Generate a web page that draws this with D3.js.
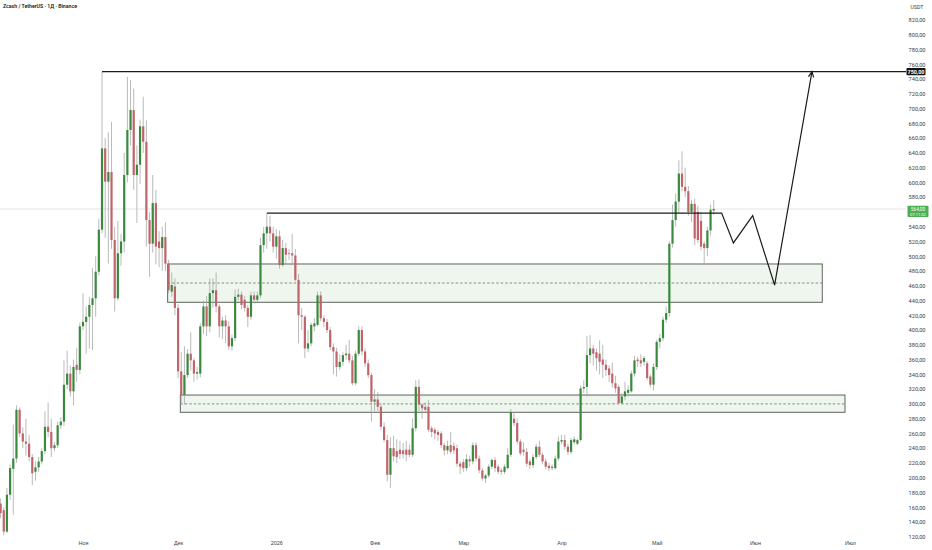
<!DOCTYPE html>
<html>
<head>
<meta charset="utf-8">
<script src="https://cdn.jsdelivr.net/npm/d3@7"></script>
<style>
body { margin: 0; background: #fff; }
svg { display: block; font-family: Roboto, "Noto Sans", sans-serif; }
</style>
</head>
<body>
<script>
// daily candles, first one on this day
const startDay = '2025-10-06'

const opens = [165,156,127,177,212,226,292,260,249,246,228,208,214,222,236,269,262,240,244,271,
  276,326,341,317,353,346,405,411,418,434,443,479,536,646,601,614,522,443,504,520,
  610,671,698,610,624,676,655,549,517,572,520,511,526,490,452,459,430,344,312,339,
  368,359,341,341,405,432,405,450,454,432,405,413,405,378,389,445,448,441,430,418,
  447,441,447,515,531,540,531,513,527,488,511,504,504,501,468,420,418,375,382,405,
  407,447,416,411,400,377,371,350,357,366,368,359,328,368,400,371,355,339,303,306,
  296,269,251,204,240,236,238,237,238,238,231,267,323,299,296,296,267,265,262,260,
  244,237,244,243,240,219,221,213,225,222,244,226,210,199,203,215,224,215,210,208,
  213,231,280,274,249,238,235,222,217,228,242,231,222,216,215,213,226,249,251,242,
  235,248,246,251,321,323,366,375,370,368,360,353,348,341,328,323,301,310,315,317,
  341,360,359,357,355,337,326,350,384,389,414,423,517,549,574,612,594,588,560,571,
  560,548,517,511,535,562]
const highs = [172,160,186,218,272,298,295,268,280,258,232,222,228,240,290,302,280,248,276,282,
  359,372,352,360,376,410,450,432,445,484,500,551,750,660,668,682,540,548,530,640,
  743,739,727,650,685,716,684,560,610,590,534,540,546,495,478,470,435,370,378,374,
  397,362,350,409,440,446,470,470,478,435,418,420,412,394,455,456,452,446,434,452,
  452,452,525,540,558,555,540,537,535,522,518,510,530,510,476,430,420,400,410,416,
  452,452,420,415,404,382,376,367,370,380,387,365,372,405,405,375,360,342,320,316,
  300,275,258,255,257,252,250,247,250,245,280,332,333,300,302,305,270,268,265,263,
  247,250,262,248,245,222,225,232,230,248,248,230,213,205,218,226,228,218,213,218,
  240,293,289,280,252,248,240,225,232,246,250,234,226,220,218,230,256,258,258,246,
  254,256,253,325,332,392,393,380,375,386,380,360,352,356,338,326,315,330,325,345,
  365,364,367,365,358,340,355,387,395,418,432,520,570,585,630,642,620,595,576,578,
  568,560,520,540,570,576]
const lows = [145,122,125,170,150,220,255,240,230,222,190,196,208,218,232,255,228,236,240,266,
  270,320,310,298,330,340,400,368,375,373,418,474,531,525,490,510,425,440,487,505,
  600,650,590,545,598,640,513,472,505,489,485,480,480,450,445,420,335,300,299,335,
  345,330,333,336,395,392,397,430,424,390,388,382,373,372,385,440,428,425,404,414,
  436,437,443,505,510,520,505,497,483,486,490,495,490,466,382,400,362,370,378,398,
  405,412,404,396,373,340,337,346,352,360,355,325,325,365,366,350,335,276,290,290,
  265,248,195,186,222,220,225,226,222,228,228,263,290,280,288,262,255,252,250,240,
  230,232,232,232,215,205,208,209,215,218,222,206,196,193,200,212,208,205,204,205,
  211,228,270,245,230,230,215,212,213,225,228,218,211,209,210,211,223,245,238,231,
  232,245,244,249,315,310,355,352,345,340,335,338,330,322,315,300,300,305,310,315,
  337,350,350,352,332,322,318,346,375,385,410,418,512,540,558,588,580,555,546,515,
  518,508,488,500,528,556]
const closes = [152,127,177,213,226,292,260,249,246,228,206,214,222,236,269,262,240,244,271,276,
  326,341,317,350,346,405,411,418,434,443,479,536,646,601,614,522,443,504,520,610,
  671,698,610,624,676,655,549,517,572,513,511,526,490,454,461,430,344,312,339,368,
  359,341,343,405,432,405,450,454,432,405,413,405,378,389,445,448,434,430,418,447,
  441,447,515,531,540,531,513,527,488,511,502,503,501,468,420,418,375,382,407,409,
  447,416,411,400,377,371,350,357,366,368,359,328,368,400,371,355,339,303,306,296,
  269,251,204,240,229,228,232,232,231,231,267,323,299,294,292,265,262,260,258,244,
  237,243,235,237,219,215,213,225,222,244,226,210,199,203,215,224,213,208,208,215,
  231,289,274,249,233,235,219,217,228,242,231,222,215,213,213,226,249,251,242,235,
  251,252,251,321,323,366,375,368,362,357,353,346,339,328,321,301,310,317,319,341,
  359,358,355,362,335,326,350,384,389,414,423,517,549,574,612,594,588,560,571,524,
  522,513,511,535,563,564]

const monthDays = ['2025-11-01','2025-12-01','2026-01-01','2026-02-01','2026-03-01','2026-04-01','2026-05-01','2026-06-01','2026-07-01']
const monthLabels = ['Ноя','Дек','2026','Фев','Мар','Апр','Май','Июн','Июл']
const priceTicks = [120,140,160,180,200,220,240,260,280,300,320,340,360,380,400,420,440,460,480,500,
  520,540,560,580,600,620,640,660,680,700,720,740,760,780,800,820]

// drawn zones: top, middle, bottom price and start / end time
const upperZone = [489.5, 463.7, 437.6]
const upperZoneDays = ['2025-11-27T17:00Z','2026-06-22T06:00Z']
const lowerZone = [312, 300, 288.6]
const lowerZoneDays = ['2025-12-01T17:00Z','2026-06-29T10:00Z']

const athPrice = 750
const athDay = '2025-11-07'

// resistance line and projected path
const pathDays = ['2025-12-29','2026-05-21T12:00Z','2026-05-25T05:00Z','2026-05-31T07:00Z','2026-06-07T05:00Z','2026-06-19']
const pathPrices = [558.5,558.5,518,555,461,750]

const lastPrice = 564
const countdown = '07:11:02'

var width = 932, height = 550
var plotRight = 906

var day0 = new Date(startDay + 'T00:00Z')
var candles = closes.map((c, i) => ({
  date: new Date(day0.getTime() + i * 864e5),
  o: opens[i], h: highs[i], l: lows[i], c: c
}))

var x = d3.scaleUtc()
  .domain([new Date('2025-11-01T00:00Z'), new Date('2026-07-01T00:00Z')])
  .range([83, 850])

var y = d3.scaleLinear()
  .domain([140, 820])
  .range([522, 20])

var fmt = (v) => d3.format('.2f')(v).replace('.', ',')

var svg = d3.select('body').append('svg').attr('width', width).attr('height', height)
svg.append('rect').attr('width', width).attr('height', height).attr('fill', '#fff')

var plot = svg.append('g')

// last price line
plot.append('line')
  .attr('x1', 0).attr('x2', plotRight)
  .attr('y1', y(lastPrice)).attr('y2', y(lastPrice))
  .attr('stroke', '#e4e4e4').attr('stroke-width', 1)

// zones
function zone(levels, days) {
  var x0 = x(new Date(days[0])), x1 = x(new Date(days[1]))
  plot.append('rect')
    .attr('x', x0).attr('y', y(levels[0]))
    .attr('width', x1 - x0).attr('height', y(levels[2]) - y(levels[0]))
    .attr('fill', '#eef6ee').attr('stroke', '#5f6360').attr('stroke-width', 1)
  plot.append('line')
    .attr('x1', x0).attr('x2', x1)
    .attr('y1', y(levels[1])).attr('y2', y(levels[1]))
    .attr('stroke', '#6f7370').attr('stroke-width', 0.8).attr('stroke-dasharray', '2.5,2')
}
zone(upperZone, upperZoneDays)
zone(lowerZone, lowerZoneDays)

// candles
var bw = 2.2
var cg = plot.append('g')
cg.selectAll('line.wick').data(candles).enter().append('line')
  .attr('class', 'wick')
  .attr('x1', (d) => x(d.date)).attr('x2', (d) => x(d.date))
  .attr('y1', (d) => y(d.h)).attr('y2', (d) => y(d.l))
  .attr('stroke', '#a8a8a8').attr('stroke-width', 0.8)
cg.selectAll('rect.body').data(candles).enter().append('rect')
  .attr('class', 'body')
  .attr('x', (d) => x(d.date) - bw / 2)
  .attr('y', (d) => y(Math.max(d.o, d.c)))
  .attr('width', bw)
  .attr('height', (d) => Math.max(0.8, Math.abs(y(d.o) - y(d.c))))
  .attr('fill', (d) => d.c >= d.o ? '#3a8a3e' : '#c0646c')

// ATH level
plot.append('line')
  .attr('x1', x(new Date(athDay))).attr('x2', plotRight)
  .attr('y1', y(athPrice)).attr('y2', y(athPrice))
  .attr('stroke', '#1b1b1b').attr('stroke-width', 1.2)

// resistance + projection
var pts = pathDays.map((d, i) => [x(new Date(d)), y(pathPrices[i])])
plot.append('path')
  .attr('d', d3.line()(pts))
  .attr('fill', 'none').attr('stroke', '#1b1b1b').attr('stroke-width', 1.2)
  .attr('stroke-linejoin', 'miter')

// arrow head
var p1 = pts[pts.length - 2], p2 = pts[pts.length - 1]
var ang = Math.atan2(p2[1] - p1[1], p2[0] - p1[0])
var al = 6, spread = 0.45
var head = [
  [p2[0] - al * Math.cos(ang - spread), p2[1] - al * Math.sin(ang - spread)],
  p2,
  [p2[0] - al * Math.cos(ang + spread), p2[1] - al * Math.sin(ang + spread)]
]
plot.append('path')
  .attr('d', d3.line()(head))
  .attr('fill', 'none').attr('stroke', '#1b1b1b').attr('stroke-width', 1.2)

// price scale (the tick hidden under the last price label is skipped)
var shownTicks = priceTicks.filter((t) => Math.abs(y(t) - y(lastPrice)) > 6)
var yAxis = d3.axisRight(y).tickValues(shownTicks).tickSize(0).tickPadding(0).tickFormat(fmt)
var ya = svg.append('g').attr('transform', 'translate(917,0)').call(yAxis)
ya.select('.domain').remove()
ya.selectAll('text')
  .attr('text-anchor', 'middle').attr('fill', '#3a3e48')
  .style('font-size', '5.6px').style('font-family', 'Roboto, sans-serif')

svg.append('text').attr('x', 917).attr('y', 9).attr('text-anchor', 'middle')
  .attr('fill', '#3a3e48').style('font-size', '5.2px').text('USDT')

// label for ATH
svg.append('rect').attr('x', 906.5).attr('y', y(athPrice) - 3.6).attr('width', 19).attr('height', 7.2)
  .attr('fill', '#131313').attr('rx', 0.8)
svg.append('text').attr('x', 916).attr('y', y(athPrice) + 2).attr('text-anchor', 'middle')
  .attr('fill', '#fff').style('font-size', '5.4px').style('font-weight', 'bold').text(fmt(athPrice))

// last price label
svg.append('rect').attr('x', 907.5).attr('y', y(lastPrice) - 3.3).attr('width', 21).attr('height', 11.4)
  .attr('fill', '#4caf50').attr('rx', 0.8)
svg.append('text').attr('x', 918).attr('y', y(lastPrice) + 1.7).attr('text-anchor', 'middle')
  .attr('fill', '#fff').style('font-size', '4.8px').text(fmt(lastPrice))
svg.append('text').attr('x', 918).attr('y', y(lastPrice) + 7).attr('text-anchor', 'middle')
  .attr('fill', '#fff').style('font-size', '4.1px').text(countdown)

// time scale
var xAxis = d3.axisBottom(x)
  .tickValues(monthDays.map((d) => new Date(d + 'T00:00Z')))
  .tickFormat((d, i) => monthLabels[i])
  .tickSize(0).tickPadding(0)
var xa = svg.append('g').attr('transform', 'translate(0,541)').call(xAxis)
xa.select('.domain').remove()
xa.selectAll('text').attr('fill', '#3a3e48').style('font-size', '5.4px')

// title
svg.append('text').attr('x', 3).attr('y', 7.5)
  .attr('fill', '#131722').style('font-size', '5.2px').style('font-weight', '600')
  .text('Zcash / TetherUS · 1Д · Binance')
</script>
</body>
</html>
